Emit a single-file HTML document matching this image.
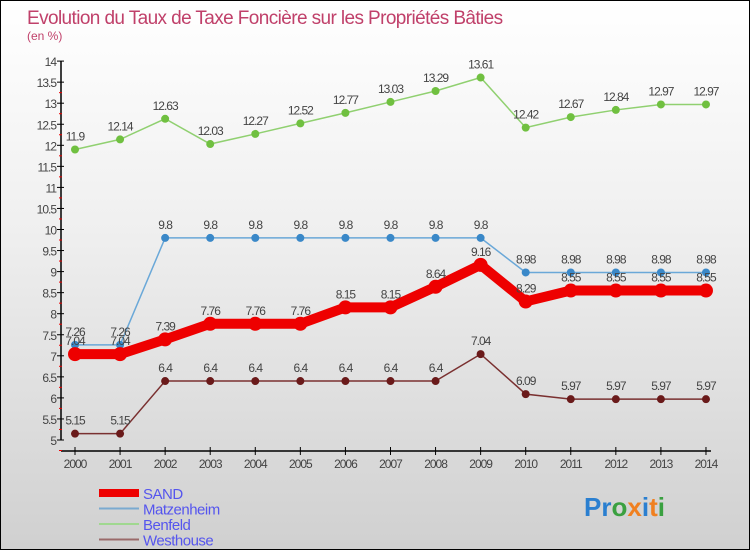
<!DOCTYPE html>
<html><head><meta charset="utf-8"><style>
body{margin:0;width:750px;height:550px;overflow:hidden;font-family:"Liberation Sans",sans-serif}
#wrap{position:relative;width:748px;height:548px;border:1px solid #000;background:linear-gradient(#fff 0%,#f0f0f0 40%,#d0d0d0 100%)}
svg{position:absolute;left:0;top:0}
</style></head><body>
<div id="wrap">
<svg id="c" width="748" height="548">
<text x="26" y="23" font-size="19" fill="#c0406a" letter-spacing="-0.6">Evolution du Taux de Taxe Foncière sur les Propriétés Bâties</text>
<text x="26" y="39" font-size="12" fill="#c0406a">(en %)</text>
<g id="axes"></g><g id="series"></g><g id="legend"></g>
<text x="583" y="515" font-size="26" font-weight="bold"><tspan fill="#2a7fd0">Pr</tspan><tspan fill="#3aa040">o</tspan><tspan fill="#f08020">x</tspan><tspan fill="#2a7fd0">i</tspan><tspan fill="#f08020">t</tspan><tspan fill="#3aa040">i</tspan></text>
</svg></div>
<script>
const years=[2000,2001,2002,2003,2004,2005,2006,2007,2008,2009,2010,2011,2012,2013,2014];
const sand=[7.04,7.04,7.39,7.76,7.76,7.76,8.15,8.15,8.64,9.16,8.29,8.55,8.55,8.55,8.55];
const matz=[7.26,7.26,9.8,9.8,9.8,9.8,9.8,9.8,9.8,9.8,8.98,8.98,8.98,8.98,8.98];
const benf=[11.9,12.14,12.63,12.03,12.27,12.52,12.77,13.03,13.29,13.61,12.42,12.67,12.84,12.97,12.97];
const west=[5.15,5.15,6.4,6.4,6.4,6.4,6.4,6.4,6.4,7.04,6.09,5.97,5.97,5.97,5.97];
const yTicks=[5,5.5,6,6.5,7,7.5,8,8.5,9,9.5,10,10.5,11,11.5,12,12.5,13,13.5,14];
const NS="http://www.w3.org/2000/svg";
const X=i=>74+i*45.07, Y=v=>439-(v-5)*42.1;
function mk(t,a,p){const e=document.createElementNS(NS,t);for(const k in a)e.setAttribute(k,a[k]);p.appendChild(e);return e;}
const ax=document.getElementById('axes');
let l=mk('line',{x1:60,y1:Y(14),x2:60,y2:Y(5),stroke:'#000','stroke-width':1.5},ax);

l=mk('line',{x1:60,y1:450,x2:X(14)+5,y2:450,stroke:'#000','stroke-width':1.5},ax);

yTicks.forEach(v=>{mk('line',{x1:56,y1:Y(v),x2:63,y2:Y(v),stroke:'#000'},ax);
 mk('line',{x1:58,y1:Y(v)+10.5,x2:61,y2:Y(v)+10.5,stroke:v<14?'#e00':'none'},ax);
 const t=mk('text',{x:55,y:Y(v)+5,'text-anchor':'end','font-size':12,fill:'#444','letter-spacing':'-1'},ax);t.textContent=v;
 });
years.forEach((y,i)=>{mk('line',{x1:X(i),y1:446,x2:X(i),y2:454,stroke:'#000'},ax);
 const t=mk('text',{x:X(i),y:467,'text-anchor':'middle','font-size':12,fill:'#444','letter-spacing':'-1'},ax);t.textContent=y;
 });
const sg=document.getElementById('series');
function draw(vals,color,w,r,name,dot){
 const p=mk('polyline',{points:vals.map((v,i)=>X(i)+','+Y(v)).join(' '),fill:'none',stroke:color,'stroke-width':w},sg);
 
 vals.forEach((v,i)=>{const c=mk('circle',{cx:X(i),cy:Y(v),r:r,fill:dot},sg);
  
  const t=mk('text',{x:X(i),y:Y(v)-9,'text-anchor':'middle','font-size':12,fill:'#444','letter-spacing':'-1'},sg);t.textContent=v;
  });
}
draw(west,'#7a3030',1.5,4,'westhouse','#6a1a1a');
draw(benf,'#90d070',1.5,4,'benfeld','#70c040');
draw(matz,'#6aa8d8',1.5,4,'matzenheim','#3a88c8');
draw(sand,'#e00',10,7,'sand','#e00');
const lg=document.getElementById('legend');
[['SAND','#e00',8],['Matzenheim','#7aaad0',2],['Benfeld','#a0d890',2],['Westhouse','#9a6a6a',2]].forEach((d,i)=>{
 const y=492+i*15.5;
 const s=mk('line',{x1:98,y1:y,x2:138,y2:y,stroke:d[1],'stroke-width':d[2]},lg);
 
 const t=mk('text',{x:142,y:y+6,'font-size':15,fill:'#5555ee','letter-spacing':'-0.5'},lg);t.textContent=d[0];
 });
</script></body></html>
